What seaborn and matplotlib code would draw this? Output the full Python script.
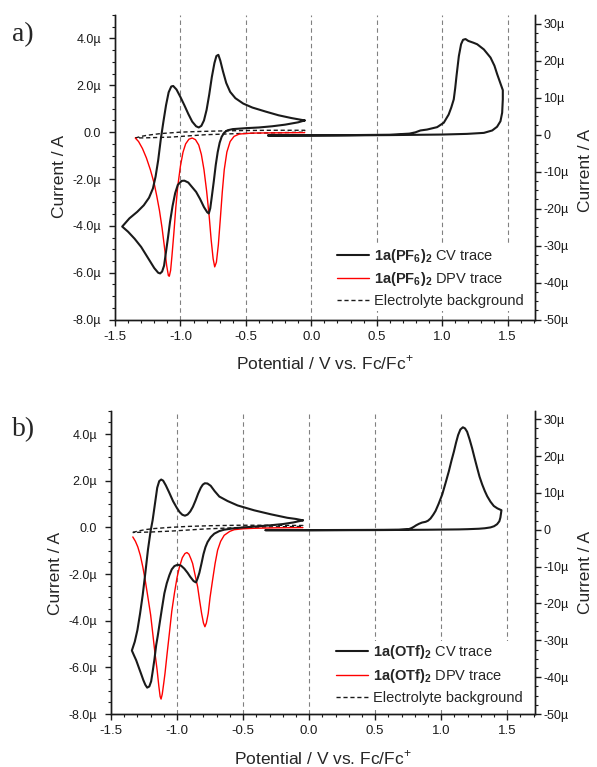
import matplotlib
matplotlib.use("Agg")
import matplotlib.pyplot as plt
from matplotlib.ticker import MultipleLocator, FuncFormatter
from matplotlib.lines import Line2D
import seaborn as sns

# ---- panel a: 1a(PF6)2 ----
a_cv_x = [-0.05, -0.15, -0.25, -0.35, -0.45, -0.52, -0.58, -0.62, -0.65, -0.675, -0.695, -0.71,
          -0.725, -0.74, -0.76, -0.78, -0.80, -0.82, -0.84, -0.86, -0.88, -0.91, -0.94, -0.97,
          -1.00, -1.03, -1.055, -1.07, -1.09, -1.11, -1.13, -1.15, -1.17, -1.19, -1.21, -1.24,
          -1.28, -1.33, -1.39, -1.445,
          -1.40, -1.35, -1.30, -1.25, -1.20, -1.17, -1.155, -1.14, -1.125, -1.11, -1.095, -1.08,
          -1.06, -1.04, -1.02, -0.99, -0.97, -0.94, -0.91, -0.88, -0.85, -0.82, -0.795, -0.783,
          -0.772, -0.76, -0.745, -0.73, -0.715, -0.70, -0.685, -0.665, -0.64, -0.60, -0.50, -0.40,
          -0.30, -0.20, -0.10, -0.05]
a_cv_y = [0.50, 0.60, 0.72, 0.88, 1.05, 1.22, 1.45, 1.72, 2.10, 2.60, 3.05, 3.30,
          3.25, 2.95, 2.35, 1.60, 0.95, 0.50, 0.27, 0.20, 0.25, 0.45, 0.78, 1.15,
          1.50, 1.82, 1.97, 1.95, 1.70, 1.15, 0.45, -0.30, -1.20, -1.90, -2.40, -2.80,
          -3.12, -3.40, -3.68, -4.03,
          -4.25, -4.55, -4.90, -5.35, -5.80, -6.00, -6.03, -5.95, -5.70, -5.10, -4.50, -3.85,
          -3.15, -2.60, -2.25, -2.08, -2.07, -2.15, -2.35, -2.55, -2.85, -3.20, -3.42, -3.47,
          -3.25, -2.75, -2.10, -1.40, -0.85, -0.45, -0.20, -0.02, 0.08, 0.13, 0.17, 0.20,
          0.25, 0.32, 0.42, 0.50]

a_dpv_x = [-1.345, -1.32, -1.29, -1.26, -1.23, -1.20, -1.18, -1.16, -1.14, -1.12, -1.105, -1.092,
           -1.085, -1.075, -1.065, -1.05, -1.035, -1.02, -1.00, -0.98, -0.96, -0.935, -0.91, -0.885,
           -0.86, -0.84, -0.82, -0.80, -0.78, -0.765, -0.75, -0.738, -0.725, -0.71, -0.695, -0.68,
           -0.665, -0.645, -0.62, -0.59, -0.55, -0.45, -0.30, -0.05]
a_dpv_y = [-0.25, -0.40, -0.70, -1.10, -1.60, -2.20, -2.75, -3.35, -4.10, -5.00, -5.70, -6.12,
           -6.15, -5.90, -5.30, -4.30, -3.20, -2.30, -1.45, -0.85, -0.50, -0.30, -0.25, -0.32,
           -0.55, -0.95, -1.60, -2.50, -3.60, -4.60, -5.40, -5.75, -5.55, -4.80, -3.70, -2.55,
           -1.60, -0.85, -0.40, -0.18, -0.08, -0.04, -0.03, -0.02]

a_bg_x = [-1.345, -1.30, -1.25, -1.15, -1.00, -0.85, -0.70, -0.50, -0.30, -0.05,
          -0.05, -0.30, -0.56, -0.81, -1.07, -1.25, -1.345]
a_bg_y = [-0.25, -0.18, -0.13, -0.06, 0.00, 0.03, 0.05, 0.07, 0.08, 0.08,
          0.00, -0.03, -0.06, -0.11, -0.21, -0.24, -0.25]

# oxidative scan, right axis
a_ox_x = [-0.33, 0.00, 0.30, 0.60, 0.75, 0.796, 0.834, 0.885, 0.962, 1.013, 1.05, 1.07, 1.089,
          1.10, 1.11, 1.128, 1.145, 1.16, 1.179, 1.20, 1.24, 1.268, 1.319, 1.37, 1.40, 1.421,
          1.446, 1.464,
          1.464, 1.459, 1.446, 1.42, 1.383, 1.319, 1.19, 1.00, 0.60, 0.20, -0.33]
a_ox_y = [-0.20, -0.20, -0.15, -0.05, 0.25, 0.60, 1.10, 1.35, 2.00, 3.20, 5.40, 7.30, 9.50,
          12.5, 15.8, 21.2, 24.4, 25.6, 25.8, 25.3, 24.8, 24.4, 23.0, 20.8, 18.6, 16.3,
          13.8, 12.0,
          9.5, 5.9, 3.6, 2.1, 1.1, 0.45, 0.18, 0.00, -0.15, -0.25, -0.30]

# ---- panel b: 1a(OTf)2 ----
b_cv_x = [-0.047, -0.10, -0.165, -0.29, -0.416, -0.542, -0.618, -0.68, -0.715, -0.745, -0.77, -0.79,
          -0.805, -0.82, -0.84, -0.86, -0.88, -0.90, -0.92, -0.94, -0.96, -0.98, -1.00, -1.03,
          -1.06, -1.085, -1.105, -1.12, -1.135, -1.15, -1.16, -1.17, -1.185, -1.20, -1.22, -1.24,
          -1.26, -1.28, -1.30, -1.32, -1.342,
          -1.325, -1.309, -1.29, -1.272, -1.255, -1.24, -1.226, -1.21, -1.196, -1.185, -1.171, -1.158,
          -1.146, -1.13, -1.115, -1.096, -1.078, -1.058, -1.04, -1.02, -0.995, -0.97, -0.945, -0.92,
          -0.90, -0.875, -0.857, -0.845, -0.831, -0.815, -0.80, -0.785, -0.769, -0.745, -0.718, -0.68,
          -0.643, -0.57, -0.49, -0.40, -0.29, -0.20, -0.12, -0.047]
b_cv_y = [0.30, 0.36, 0.41, 0.56, 0.73, 0.94, 1.13, 1.32, 1.55, 1.78, 1.88, 1.89,
          1.83, 1.70, 1.45, 1.15, 0.88, 0.68, 0.55, 0.50, 0.54, 0.65, 0.82, 1.12,
          1.50, 1.80, 2.00, 2.05, 1.98, 1.70, 1.30, 0.90, 0.30, -0.15, -0.95, -1.95,
          -2.90, -3.70, -4.40, -4.90, -5.28,
          -5.50, -5.70, -6.00, -6.28, -6.55, -6.75, -6.87, -6.82, -6.60, -6.20, -5.65, -5.05,
          -4.65, -4.05, -3.50, -2.83, -2.40, -2.05, -1.80, -1.66, -1.60, -1.64, -1.77, -1.95,
          -2.12, -2.30, -2.36, -2.20, -1.95, -1.55, -1.15, -0.85, -0.63, -0.42, -0.27, -0.16,
          -0.10, -0.04, 0.00, 0.04, 0.09, 0.14, 0.21, 0.30]

b_dpv_x = [-1.335, -1.315, -1.297, -1.278, -1.259, -1.24, -1.221, -1.20, -1.184, -1.168, -1.151, -1.138,
           -1.128, -1.121, -1.112, -1.10, -1.091, -1.075, -1.058, -1.04, -1.02, -1.00, -0.982, -0.96,
           -0.94, -0.925, -0.91, -0.895, -0.882, -0.865, -0.844, -0.83, -0.814, -0.80, -0.789, -0.778,
           -0.764, -0.75, -0.731, -0.712, -0.693, -0.67, -0.643, -0.60, -0.567, -0.50, -0.416, -0.25,
           -0.047]
b_dpv_y = [-0.41, -0.60, -0.84, -1.20, -1.70, -2.30, -2.98, -3.75, -4.54, -5.35, -6.11, -6.80,
           -7.25, -7.36, -7.15, -6.65, -6.25, -5.40, -4.54, -3.60, -2.83, -2.15, -1.70, -1.30,
           -1.12, -1.08, -1.15, -1.35, -1.55, -2.00, -2.55, -3.10, -3.69, -4.10, -4.26, -4.10,
           -3.69, -3.00, -2.26, -1.55, -0.98, -0.60, -0.34, -0.17, -0.10, -0.06, -0.04, -0.02,
           -0.01]

b_bg_x = [-1.335, -1.29, -1.23, -1.17, -1.05, -0.92, -0.75, -0.54, -0.30, -0.047,
          -0.047, -0.30, -0.54, -0.79, -1.045, -1.20, -1.335]
b_bg_y = [-0.22, -0.15, -0.09, -0.05, 0.00, 0.04, 0.07, 0.09, 0.09, 0.08,
          0.04, 0.02, -0.01, -0.07, -0.16, -0.20, -0.22]

b_ox_x = [-0.33, 0.00, 0.40, 0.68, 0.756, 0.775, 0.793, 0.81, 0.831, 0.855, 0.882, 0.90,
          0.919, 0.94, 0.957, 0.98, 1.008, 1.033, 1.058, 1.078, 1.096, 1.112, 1.128, 1.145,
          1.164, 1.18, 1.196, 1.215, 1.234, 1.253, 1.272, 1.29, 1.31, 1.33, 1.348, 1.373,
          1.398, 1.425, 1.456,
          1.452, 1.448, 1.44, 1.423, 1.40, 1.373, 1.33, 1.285, 1.20, 1.134, 0.90, 0.50, 0.00, -0.33]
b_ox_y = [-0.10, -0.10, -0.05, 0.00, 0.18, 0.45, 0.80, 1.20, 1.60, 1.95, 2.15, 2.45,
          3.05, 4.10, 5.10, 7.00, 9.60, 12.7, 15.9, 18.8, 21.2, 23.6, 25.7, 27.2,
          27.8, 27.5, 26.6, 24.5, 22.1, 19.4, 16.8, 14.4, 12.3, 10.5, 9.1, 7.6,
          6.45, 5.8, 5.29,
          4.3, 3.3, 2.3, 1.5, 0.95, 0.63, 0.40, 0.27, 0.15, 0.09, 0.00, -0.10, -0.15, -0.15]

grid_x = [-1.0, -0.5, 0.0, 0.5, 1.0, 1.5]

a_labels = [r"$\mathbf{1a(PF_6)_2}$ CV trace", r"$\mathbf{1a(PF_6)_2}$ DPV trace", "Electrolyte background"]
b_labels = [r"$\mathbf{1a(OTf)_2}$ CV trace", r"$\mathbf{1a(OTf)_2}$ DPV trace", "Electrolyte background"]

sns.set_theme(style="ticks")
plt.rcParams['font.family'] = ['Liberation Sans', 'DejaVu Sans']
plt.rcParams['mathtext.fontset'] = 'custom'
plt.rcParams['mathtext.rm'] = 'Liberation Sans'
plt.rcParams['mathtext.bf'] = 'Liberation Sans:bold'
plt.rcParams['axes.unicode_minus'] = False


def left_fmt(v, pos):
    if abs(v) < 1e-9:
        return "0.0"
    return f"{v:.1f}\u00b5"


def right_fmt(v, pos):
    if abs(v) < 1e-9:
        return "0"
    return f"{v:.0f}\u00b5"


def draw_panel(fig, rect, letter, letter_y, cv, dpv, bg, ox, labels, ylab_pos, leg_anchor):
    ax = fig.add_axes(rect)
    ax2 = ax.twinx()

    for gx in grid_x:
        ax.axvline(gx, color='0.5', lw=0.8, ls=(0, (4, 3)), zorder=0)

    sns.lineplot(x=bg[0], y=bg[1], sort=False, estimator=None, color='k', lw=1.0,
                 ax=ax, legend=False)
    ax.lines[-1].set_linestyle((0, (3, 2)))
    sns.lineplot(x=dpv[0], y=dpv[1], sort=False, estimator=None, color='#ff0000', lw=1.0,
                 ax=ax, legend=False)
    sns.lineplot(x=cv[0], y=cv[1], sort=False, estimator=None, color='k', lw=1.5,
                 ax=ax, legend=False)
    sns.lineplot(x=ox[0], y=ox[1], sort=False, estimator=None, color='k', lw=1.5,
                 ax=ax2, legend=False)

    ax.set_xlim(-1.5, 1.71)
    ax.set_ylim(-8, 5)
    ax2.set_ylim(-50, 32.3)

    ax.xaxis.set_major_locator(MultipleLocator(0.5))
    ax.xaxis.set_minor_locator(MultipleLocator(0.1))
    ax.yaxis.set_major_locator(MultipleLocator(2))
    ax.yaxis.set_minor_locator(MultipleLocator(0.5))
    ax.yaxis.set_major_formatter(FuncFormatter(left_fmt))
    ax2.yaxis.set_major_locator(MultipleLocator(10))
    ax2.yaxis.set_minor_locator(MultipleLocator(2.5))
    ax2.yaxis.set_major_formatter(FuncFormatter(right_fmt))
    ax.xaxis.set_major_formatter(FuncFormatter(lambda v, p: f"{v:.1f}"))

    for a in (ax, ax2):
        a.spines['top'].set_visible(False)
        for s in a.spines.values():
            s.set_linewidth(1.0)
            s.set_color('k')
    ax.tick_params(axis='both', which='major', direction='out', length=4, width=1.0,
                   labelsize=9, colors='k')
    ax.tick_params(axis='both', which='minor', direction='out', length=2, width=0.8, colors='k')
    ax.tick_params(axis='y', which='major', pad=6)
    ax.tick_params(axis='x', which='major', pad=4, labelsize=9.5)
    ax2.tick_params(axis='y', which='major', direction='out', length=4, width=1.0,
                    labelsize=9, pad=2, colors='k')
    ax2.tick_params(axis='y', which='minor', direction='out', length=2, width=0.8, colors='k')

    ax.set_xlabel("Potential / V vs. Fc/Fc$^{+}$", fontsize=12.5)
    ax.set_ylabel("Current / A", fontsize=12.5)
    ax2.set_ylabel("Current / A", fontsize=12.5)
    ax.yaxis.set_label_coords(-0.114, ylab_pos[0])
    ax2.yaxis.set_label_coords(1.102, ylab_pos[1])
    ax.xaxis.set_label_coords(0.5, -0.113)

    handles = [Line2D([], [], color='k', lw=1.5),
               Line2D([], [], color='#ff0000', lw=1.0),
               Line2D([], [], color='k', lw=1.0, ls=(0, (3, 2)))]
    leg = ax.legend(handles, labels, loc='lower right', bbox_to_anchor=leg_anchor,
                    fontsize=10.5, frameon=True, facecolor='white', edgecolor='none',
                    framealpha=1.0, fancybox=False, handlelength=2.17, handletextpad=0.39,
                    labelspacing=0.39, borderpad=0.2, borderaxespad=0)
    leg.set_zorder(5)

    fig.text(12 / 597, letter_y, letter, family='Liberation Serif', fontsize=20,
             va='baseline', ha='left')
    return ax, ax2


fig = plt.figure(figsize=(5.97, 7.67), dpi=100)
draw_panel(fig, [115 / 597, 1 - 319.6 / 767, 420 / 597, 304.6 / 767], "a)", 1 - 41.5 / 767,
           (a_cv_x, a_cv_y), (a_dpv_x, a_dpv_y), (a_bg_x, a_bg_y), (a_ox_x, a_ox_y), a_labels,
           (0.47, 0.49), (0.981, 0.028))
draw_panel(fig, [111 / 597, 1 - 714 / 767, 424 / 597, 303.3 / 767], "b)", 1 - 436 / 767,
           (b_cv_x, b_cv_y), (b_dpv_x, b_dpv_y), (b_bg_x, b_bg_y), (b_ox_x, b_ox_y), b_labels,
           (0.465, 0.467), (0.979, 0.0205))

fig.savefig("out.png", dpi=100)
